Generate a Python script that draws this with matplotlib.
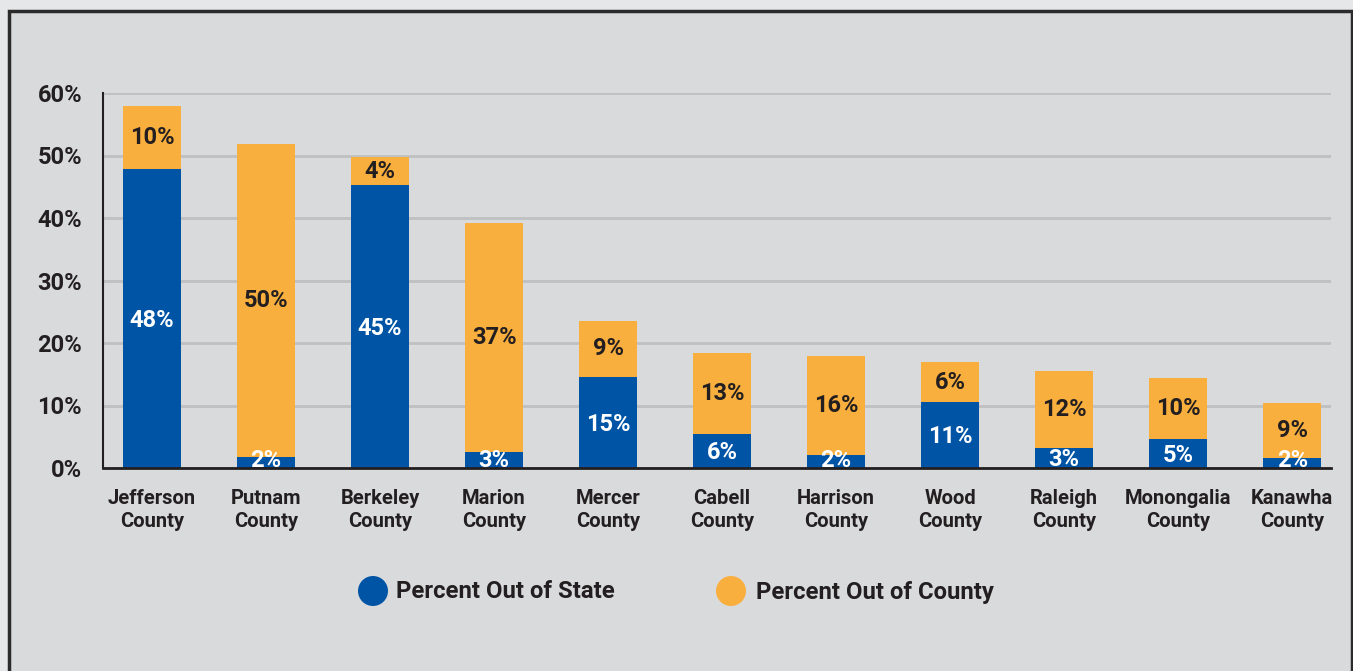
import matplotlib
matplotlib.use("Agg")
import matplotlib.pyplot as plt
from matplotlib.patches import Rectangle, Ellipse

plt.rcParams['font.family'] = ['Roboto', 'DejaVu Sans']

counties = ["Jefferson\nCounty", "Putnam\nCounty", "Berkeley\nCounty", "Marion\nCounty",
            "Mercer\nCounty", "Cabell\nCounty", "Harrison\nCounty", "Wood\nCounty",
            "Raleigh\nCounty", "Monongalia\nCounty", "Kanawha\nCounty"]
out_of_state = [47.8, 1.8, 45.3, 2.6, 14.6, 5.5, 2.1, 10.6, 3.2, 4.7, 1.6]
out_of_county = [10.1, 50.1, 4.4, 36.6, 9.0, 12.9, 15.8, 6.3, 12.4, 9.7, 8.8]
y_ticks = [0, 10, 20, 30, 40, 50, 60]
series_names = ["Percent Out of State", "Percent Out of County"]

BLUE = "#0054a6"
ORANGE = "#f9af3d"
DARK = "#231f20"
PANEL = "#d9dadc"
OUTER = "#e6e7e8"
GRID = "#bfc0c2"

W, H = 1353, 671
fig = plt.figure(figsize=(W / 100, H / 100), dpi=100)
fig.patch.set_facecolor(OUTER)

# framed panel behind the chart
fig.patches.append(Rectangle((8.5 / W, -0.05), (1352 - 8.5) / W, 1.05 - 11.5 / H,
                             transform=fig.transFigure, facecolor=PANEL,
                             edgecolor="#2b2b2b", linewidth=2.5, zorder=-5))

ax = fig.add_axes([103 / W, 1 - 468 / H, (1331 - 103) / W, (468 - 93) / H])
ax.set_facecolor("none")
ax.set_zorder(1)

x = list(range(len(counties)))
width = 0.51
ax.bar(x, out_of_state, width, color=BLUE, zorder=3)
ax.bar(x, out_of_county, width, bottom=out_of_state, color=ORANGE, zorder=3)

for i, (s, c) in enumerate(zip(out_of_state, out_of_county)):
    ys = max(s / 2, 1.5)
    ax.text(i, ys - 0.3, f"{round(s)}%", ha="center", va="center", color="white",
            fontsize=17, fontweight="bold", zorder=4)
    ax.text(i, s + c / 2, f"{round(c)}%", ha="center", va="center", color=DARK,
            fontsize=17, fontweight="bold", zorder=4)

ax.set_xlim(-0.43, 10.34)
ax.set_ylim(0, 60)
ax.set_yticks(y_ticks)
ax.set_yticklabels([f"{t}%" for t in y_ticks], fontsize=17, fontweight="bold", color=DARK)
ax.set_xticks(x)
ax.set_xticklabels(counties, fontsize=14.5, fontweight="bold", color=DARK, linespacing=1.28)
ax.tick_params(axis="y", length=0, pad=15)
ax.tick_params(axis="x", length=0, pad=15)

ax.grid(axis="y", color=GRID, linewidth=2, zorder=1)
ax.set_axisbelow(True)
for side in ["top", "right"]:
    ax.spines[side].set_visible(False)
ax.spines["left"].set_color(DARK)
ax.spines["left"].set_linewidth(1.5)
ax.spines["bottom"].set_color(DARK)
ax.spines["bottom"].set_linewidth(2)
ax.spines["bottom"].set_zorder(5)

# legend drawn in figure coordinates
for name, color, cx, tx in [(series_names[0], BLUE, 373, 396),
                            (series_names[1], ORANGE, 731, 756)]:
    fig.patches.append(Ellipse((cx / W, 1 - 591 / H), 30 / W, 30 / H,
                               transform=fig.transFigure, facecolor=color,
                               edgecolor="none", zorder=2))
    fig.text(tx / W, 1 - 592 / H, name, ha="left", va="center", fontsize=17.2,
             fontweight="bold", color=DARK)

fig.savefig("out.png", dpi=100, facecolor=fig.get_facecolor())
